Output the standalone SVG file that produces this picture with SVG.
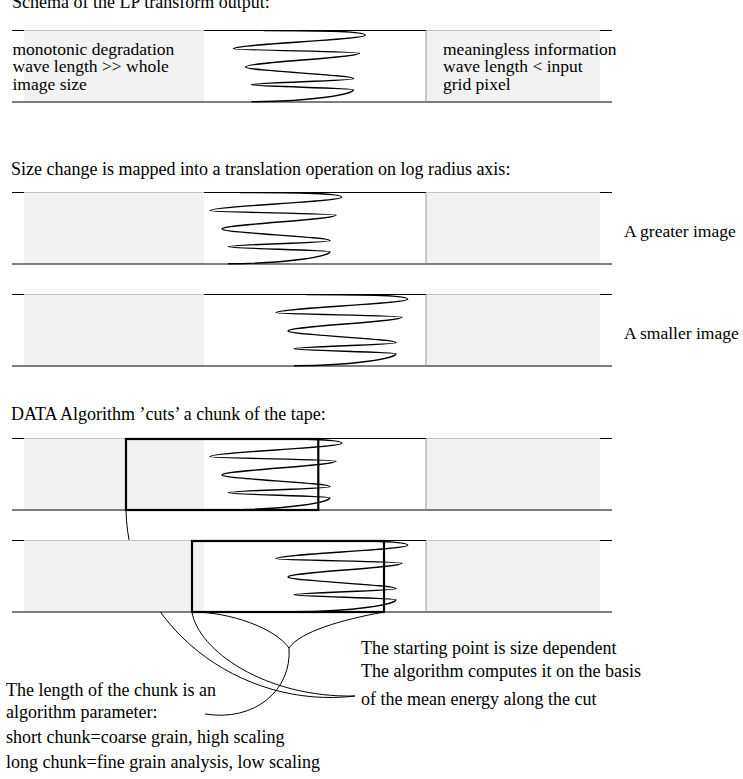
<svg xmlns="http://www.w3.org/2000/svg" xmlns:xlink="http://www.w3.org/1999/xlink" width="743" height="779" viewBox="0 0 743 779">
<style>
text{font-family:"Liberation Serif","Times New Roman",serif;font-size:18px;fill:#000}
.small{font-size:17.5px}
.gfill{fill:#f2f2f2;stroke:none}
.wfill{fill:#fff;stroke:none}
.gline{stroke:#c4c4c4;stroke-width:1;fill:none}
.vline{stroke:#9a9a9a;stroke-width:1;fill:none}
.bline{stroke:#000;stroke-width:1.2;fill:none}
.wave{stroke:#000;stroke-width:1.4;fill:none}
.chunk{stroke:#000;stroke-width:2.2;fill:none}
.conn{stroke:#000;stroke-width:1;fill:none}
</style>
<defs>
<g id="tape">
<rect class="gfill" x="24" y="0" width="576" height="72"/>
<rect class="wfill" x="204" y="0" width="222" height="72"/>
<path class="gline" d="M24,0.5H204M426,0.5H600"/>
<path class="bline" d="M12,0.5H24M204,0.5H426M600,0.5H612M12,72H612"/>
<path class="vline" d="M426,0.5V71.5"/>
</g>
<path id="wave" class="wave" d="M240,0.6 C305,0.6 341.7,1.5 341.7,5.3 C341.7,9.8 210,14.2 210,18.7 C210,20.1 336,21.6 336,23 C336,27.7 222,32.3 222,37 C222,40.9 330,44.8 330,48.7 C330,50.7 228,52.7 228,54.7 C228,56.4 330,58 330,59.7 C330,64 290,71.5 228,71.7"/>
</defs>

<g id="connectors">
<path class="conn" d="M126,510 C128,625 240,710 355,696"/>
<path class="conn" d="M192,612 C198,650 265,698 355,696"/>
<path class="conn" d="M192,612 C230,612 275,628 289,648"/>
<path class="conn" d="M384,612 C340,620 300,632 289,648"/>
<path class="conn" d="M289,648 C292,690 255,722 205,714"/>
</g>

<text x="12" y="8">Schema of the LP transform output:</text>
<g id="strip1">
<use xlink:href="#tape" transform="translate(0,30)"/>
<use xlink:href="#wave" transform="translate(23.5,30)"/>
<text class="small" x="12.5" y="54.5">monotonic degradation</text>
<text class="small" x="12.5" y="72">wave length &gt;&gt; whole</text>
<text class="small" x="12.5" y="89.5">image size</text>
<text class="small" x="443" y="54.5">meaningless information</text>
<text class="small" x="443" y="72">wave length &lt; input</text>
<text class="small" x="443" y="89.5">grid pixel</text>
</g>

<text x="11" y="175">Size change is mapped into a translation operation on log radius axis:</text>
<g id="strip2">
<use xlink:href="#tape" transform="translate(0,192)"/>
<use xlink:href="#wave" transform="translate(0,192)"/>
<text class="small" x="624" y="237">A greater image</text>
</g>
<g id="strip3">
<use xlink:href="#tape" transform="translate(0,294)"/>
<use xlink:href="#wave" transform="translate(66,294)"/>
<text class="small" x="624" y="339">A smaller image</text>
</g>

<text x="11" y="420">DATA Algorithm ’cuts’ a chunk of the tape:</text>
<g id="strip4">
<use xlink:href="#tape" transform="translate(0,438)"/>
<use xlink:href="#wave" transform="translate(0,438)"/>
<rect id="chunk4" class="chunk" x="126" y="439" width="192.3" height="71"/>
</g>
<g id="strip5">
<use xlink:href="#tape" transform="translate(0,540)"/>
<use xlink:href="#wave" transform="translate(66,540)"/>
<rect id="chunk5" class="chunk" x="192" y="541" width="192" height="71"/>
</g>

<g id="note-start">
<text x="361" y="654">The starting point is size dependent</text>
<text x="361" y="677">The algorithm computes it on the basis</text>
<text x="361" y="705">of the mean energy along the cut</text>
</g>
<g id="note-length">
<text x="6" y="696">The length of the chunk is an</text>
<text x="6" y="718">algorithm parameter:</text>
<text x="6" y="743">short chunk=coarse grain, high scaling</text>
<text x="6" y="768">long chunk=fine grain analysis, low scaling</text>
</g>
</svg>
